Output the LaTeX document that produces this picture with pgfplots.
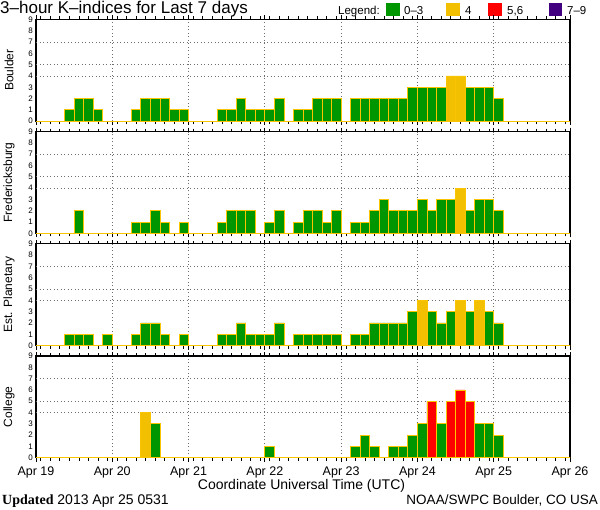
\documentclass[border=0pt]{standalone}
\usepackage{fontspec}
\setmainfont{Liberation Sans}
\newfontfamily\updfont{Liberation Serif}
\usepackage{pgfplots}
\usepackage{pgfplotstable}
\pgfplotsset{compat=1.18}

\definecolor{kgreen}{RGB}{0,150,0}
\definecolor{kyellow}{RGB}{242,192,0}
\definecolor{kred}{RGB}{255,0,0}
\definecolor{kpurple}{RGB}{64,0,128}
\definecolor{kedge}{RGB}{250,196,0}
\definecolor{kgrid}{RGB}{110,110,110}

% x = bar centre (3-hour slots), B = Boulder, F = Fredericksburg, P = Est. Planetary, C = College
\pgfplotstableread{
x B F P C
0.5 0 0 0 0
1.5 0 0 0 0
2.5 0 0 0 0
3.5 1 0 1 0
4.5 2 2 1 0
5.5 2 0 1 0
6.5 1 0 0 0
7.5 0 0 1 0
8.5 0 0 0 0
9.5 0 0 0 0
10.5 1 1 1 0
11.5 2 1 2 4
12.5 2 2 2 3
13.5 2 1 1 0
14.5 1 0 0 0
15.5 1 1 1 0
16.5 0 0 0 0
17.5 0 0 0 0
18.5 0 0 0 0
19.5 1 1 1 0
20.5 1 2 1 0
21.5 2 2 2 0
22.5 1 2 1 0
23.5 1 0 1 0
24.5 1 1 1 1
25.5 2 2 2 0
26.5 0 0 0 0
27.5 1 1 1 0
28.5 1 2 1 0
29.5 2 2 1 0
30.5 2 1 1 0
31.5 2 2 1 0
32.5 0 0 0 0
33.5 2 1 1 1
34.5 2 1 1 2
35.5 2 2 2 1
36.5 2 3 2 0
37.5 2 2 2 1
38.5 2 2 2 1
39.5 3 2 3 2
40.5 3 3 4 3
41.5 3 2 3 5
42.5 3 3 2 3
43.5 4 3 3 5
44.5 4 4 4 6
45.5 3 2 3 5
46.5 3 3 4 3
47.5 3 3 3 3
48.5 2 2 2 2
49.5 0 0 0 0
50.5 0 0 0 0
51.5 0 0 0 0
52.5 0 0 0 0
53.5 0 0 0 0
54.5 0 0 0 0
55.5 0 0 0 0
}\kdata

\pgfplotsset{
 layers/kp/.define layer set={axis background,axis grid,pre main,main,axis ticks,axis lines,axis tick labels,axis descriptions,axis foreground}{},
 kpanel/.style={
  set layers=kp,
  at={(36pt,#1)}, anchor=south west,
  scale only axis, width=534pt, height=101.8pt,
  xmin=0, xmax=56, ymin=0, ymax=9,
  ybar,
  xtick={0,8,...,56}, xticklabels={},
  minor xtick={0.5,1.5,...,55.5},
  xmajorgrids,
  ytick={0,...,9},
  extra y ticks={4,5,7}, extra y tick labels={}, extra y tick style={grid=major},
  major grid style={kgrid, line width=0.9pt, dash pattern=on 0.9pt off 2.6pt},
  axis line style={line width=1.2pt},
  y tick style={draw=none},
  x tick style={black, line width=0.8pt},
  major tick length=4pt,
  minor tick length=3pt,
  every minor tick/.append style={kedge, line width=0.9pt},
  yticklabel style={font=\fontsize{8}{8}\selectfont, inner sep=0pt, xshift=-3pt},
  /pgf/number format/assume math mode=true,
  ylabel style={at={(axis description cs:-0.0506,0.5)}, anchor=center, rotate=0, font=\fontsize{12}{12}\selectfont},
 },
 kbar/.style={draw=kedge, line width=0.8pt, fill=#1, bar width=1, bar shift=0pt},
}

\begin{document}
\begin{tikzpicture}
\path (0,0) rectangle (600pt,510pt);

% title and legend
\node[anchor=base west, inner sep=0, font=\fontsize{17}{17}\selectfont] at (0pt,496.5pt) {3–hour K–indices for Last 7 days};
\begin{scope}[font=\fontsize{11.5}{12}\selectfont]
\node[anchor=base west, inner sep=0] at (338pt,495pt) {Legend:};
\fill[kgreen] (386pt,494pt) rectangle (400pt,507pt);
\node[anchor=base west, inner sep=0] at (404pt,495pt) {0–3};
\fill[kyellow] (446pt,494pt) rectangle (460pt,507pt);
\node[anchor=base west, inner sep=0] at (465pt,495pt) {4};
\fill[kred] (488pt,494pt) rectangle (502pt,507pt);
\node[anchor=base west, inner sep=0] at (507pt,495pt) {5,6};
\fill[kpurple] (549pt,494pt) rectangle (562pt,507pt);
\node[anchor=base west, inner sep=0] at (567pt,495pt) {7–9};
\end{scope}

\begin{axis}[kpanel=388.8pt, ylabel={Boulder}]
\addplot[kbar=kgreen, restrict y to domain=-0.5:3.5] table[x=x,y=B]{\kdata};
\addplot[kbar=kyellow, restrict y to domain=3.5:4.5] table[x=x,y=B]{\kdata};
\end{axis}

\begin{axis}[kpanel=276.6pt, ylabel={Fredericksburg}]
\addplot[kbar=kgreen, restrict y to domain=-0.5:3.5] table[x=x,y=F]{\kdata};
\addplot[kbar=kyellow, restrict y to domain=3.5:4.5] table[x=x,y=F]{\kdata};
\end{axis}

\begin{axis}[kpanel=164.4pt, ylabel={Est. Planetary}]
\addplot[kbar=kgreen, restrict y to domain=-0.5:3.5] table[x=x,y=P]{\kdata};
\addplot[kbar=kyellow, restrict y to domain=3.5:4.5] table[x=x,y=P]{\kdata};
\end{axis}

\begin{axis}[kpanel=52.2pt, ylabel={College},
  xticklabels={Apr 19,Apr 20,Apr 21,Apr 22,Apr 23,Apr 24,Apr 25,Apr 26},
  xticklabel style={font=\fontsize{12.5}{13}\selectfont, yshift=-1pt}]
\addplot[kbar=kgreen, restrict y to domain=-0.5:3.5] table[x=x,y=C]{\kdata};
\addplot[kbar=kyellow, restrict y to domain=3.5:4.5] table[x=x,y=C]{\kdata};
\addplot[kbar=kred, restrict y to domain=4.5:6.5] table[x=x,y=C]{\kdata};
\end{axis}

\node[anchor=base, inner sep=0, font=\fontsize{14}{14}\selectfont] at (301.5pt,20pt) {Coordinate Universal Time (UTC)};
\node[anchor=base west, inner sep=0, font=\fontsize{14}{14}\selectfont] at (2pt,5pt) {{\updfont\bfseries Updated} 2013 Apr 25 0531};
\node[anchor=base east, inner sep=0, font=\fontsize{13.5}{14}\selectfont] at (598pt,5pt) {NOAA/SWPC Boulder, CO USA};
\end{tikzpicture}
\end{document}
